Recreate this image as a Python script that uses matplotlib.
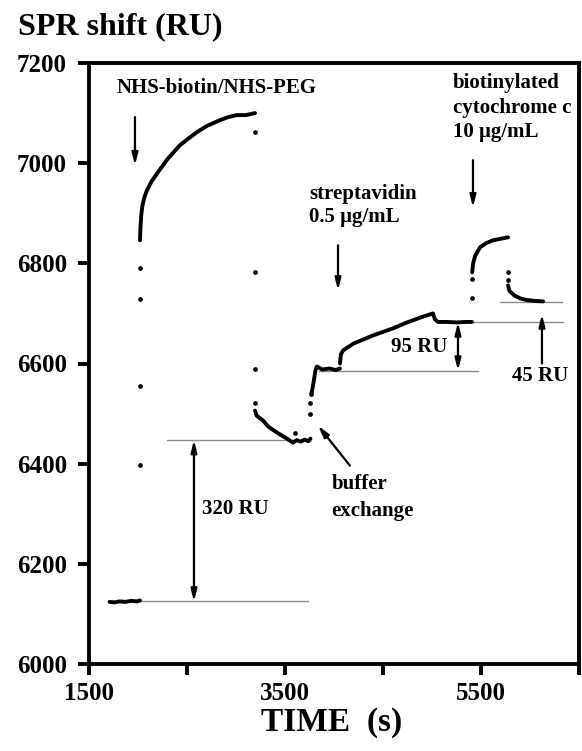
import numpy as np
import matplotlib
matplotlib.use("Agg")
import matplotlib.pyplot as plt

plt.rcParams['font.family'] = ['Liberation Serif', 'DejaVu Serif']
plt.rcParams['font.weight'] = 'bold'

# ---------------- data ----------------
# continuous traces (time s, SPR shift RU)
base_t = [1710, 1760, 1810, 1870, 1930, 1990, 2020]
base_ru = [6124, 6123, 6125, 6124, 6126, 6125, 6127]

inj1_t = [2020, 2026, 2034, 2045, 2065, 2092, 2140, 2204, 2300, 2429, 2520, 2602, 2700,
          2837, 2920, 3010, 3100, 3194]
inj1_ru = [6846, 6875, 6898, 6915, 6932, 6946, 6964, 6982, 7008, 7036, 7050, 7062, 7074,
           7086, 7092, 7096, 7096, 7100]

wash1_t = [3194, 3210, 3250, 3276, 3330, 3418, 3520, 3582, 3620, 3660, 3700, 3740, 3760]
wash1_ru = [6506, 6496, 6490, 6486, 6474, 6462, 6450, 6442, 6447, 6444, 6448, 6445, 6450]

buf_t = [3770, 3790, 3810, 3826, 3880, 3950, 4020, 4061]
buf_ru = [6540, 6560, 6586, 6594, 6588, 6590, 6587, 6590]

strep_t = [4061, 4070, 4092, 4200, 4398, 4600, 4745, 4900, 5010, 5030, 5061, 5150, 5250, 5350, 5408]
strep_ru = [6600, 6618, 6626, 6640, 6656, 6670, 6682, 6693, 6700, 6688, 6683, 6683, 6682, 6683, 6683]

cyt_t = [5410, 5420, 5440, 5490, 5550, 5622, 5700, 5776]
cyt_ru = [6782, 6800, 6815, 6832, 6840, 6846, 6849, 6852]

wash2_t = [5776, 5790, 5840, 5900, 5960, 6050, 6133]
wash2_ru = [6756, 6745, 6736, 6730, 6727, 6725, 6724]

# isolated points during injection switches
dots_t = [2020, 2020, 2020, 2020, 3194, 3194, 3194, 3194, 3602, 3755, 3760, 3765,
          5408, 5408, 5776, 5776]
dots_ru = [6397, 6556, 6728, 6790, 7062, 6782, 6590, 6522, 6462, 6500, 6522, 6540,
           6730, 6768, 6782, 6766]

# reference levels (RU) and their extents (s)
ref_levels = [6125, 6447, 6586, 6682, 6722]
ref_start = [2020, 2296, 3847, 5112, 5694]
ref_end = [3735, 3755, 5469, 6337, 6327]

xticks = [1500, 2500, 3500, 4500, 5500, 6500]
xticklabels = ['1500', '', '3500', '', '5500', '']
yticks = [6000, 6200, 6400, 6600, 6800, 7000, 7200]

# ---------------- figure ----------------
W, H = 582, 751
fig = plt.figure(figsize=(W / 100, H / 100), dpi=100)
ax = fig.add_axes([89 / W, 87 / H, 490 / W, 601 / H])
ax.set_xlim(1500, 6500)
ax.set_ylim(6000, 7200)

# reference lines
for lev, s, e in zip(ref_levels, ref_start, ref_end):
    ax.plot([s, e], [lev, lev], color='#8a8a8a', lw=1.0, zorder=1)

lw_data = 2.8
for t, r in [(base_t, base_ru), (inj1_t, inj1_ru), (wash1_t, wash1_ru), (buf_t, buf_ru),
             (strep_t, strep_ru), (cyt_t, cyt_ru), (wash2_t, wash2_ru)]:
    ax.plot(t, r, color='black', lw=lw_data, solid_capstyle='round',
            solid_joinstyle='round', zorder=3)
ax.plot(dots_t, dots_ru, 'o', color='black', ms=2.4, zorder=3)

# axes styling
for sp in ax.spines.values():
    sp.set_linewidth(2.8)
ax.set_xticks(xticks)
ax.set_xticklabels(xticklabels)
ax.set_yticks(yticks)
ax.tick_params(direction='out', length=8, width=2.8, labelsize=18)
ax.tick_params(axis='y', pad=8)
ax.tick_params(axis='x', pad=5)
for lab in ax.get_xticklabels() + ax.get_yticklabels():
    lab.set_fontweight('bold')

fig.text(18 / W, 1 - 34 / H, 'SPR shift (RU)', fontsize=23, fontweight='bold', va='baseline', ha='left')
fig.text(332 / W, 1 - 731 / H, 'TIME  (s)', fontsize=24, fontweight='bold', va='baseline', ha='center')

fs = 15
ap = dict(arrowstyle='-|>,head_length=0.7,head_width=0.18', color='black', lw=1.6,
          shrinkA=0, shrinkB=0)
ap2 = dict(arrowstyle='<|-|>,head_length=0.7,head_width=0.18', color='black', lw=1.6,
           shrinkA=0, shrinkB=0)

ax.text(1786, 7140, 'NHS-biotin/NHS-PEG', fontsize=fs, fontweight='bold', va='baseline')
ax.annotate('', xy=(1969, 6996), xytext=(1969, 7092), arrowprops=ap)

ax.text(3745, 6928, 'streptavidin', fontsize=fs, fontweight='bold', va='baseline')
ax.text(3745, 6882, '0.5 μg/mL', fontsize=fs, fontweight='bold', va='baseline')
ax.annotate('', xy=(4041, 6746), xytext=(4041, 6836), arrowprops=ap)

ax.text(5214, 7150, 'biotinylated', fontsize=fs, fontweight='bold', va='baseline')
ax.text(5214, 7100, 'cytochrome c', fontsize=fs, fontweight='bold', va='baseline')
ax.text(5214, 7052, '10 μg/mL', fontsize=fs, fontweight='bold', va='baseline')
ax.annotate('', xy=(5418, 6912), xytext=(5418, 7006), arrowprops=ap)

ax.text(3975, 6350, 'buffer', fontsize=fs, fontweight='bold', va='baseline')
ax.text(3975, 6296, 'exchange', fontsize=fs, fontweight='bold', va='baseline')
ax.annotate('', xy=(3837, 6476), xytext=(4163, 6396), arrowprops=ap)

ax.annotate('', xy=(2571, 6447), xytext=(2571, 6125), arrowprops=ap2)
ax.text(2653, 6310, '320 RU', fontsize=fs, fontweight='bold', va='center')

ax.annotate('', xy=(5265, 6682), xytext=(5265, 6586), arrowprops=ap2)
ax.text(5153, 6632, '95 RU', fontsize=fs, fontweight='bold', va='center', ha='right')

ax.annotate('', xy=(6122, 6698), xytext=(6122, 6600), arrowprops=ap)
ax.text(5816, 6576, '45 RU', fontsize=fs, fontweight='bold', va='center')

fig.savefig('out.png', dpi=100)
